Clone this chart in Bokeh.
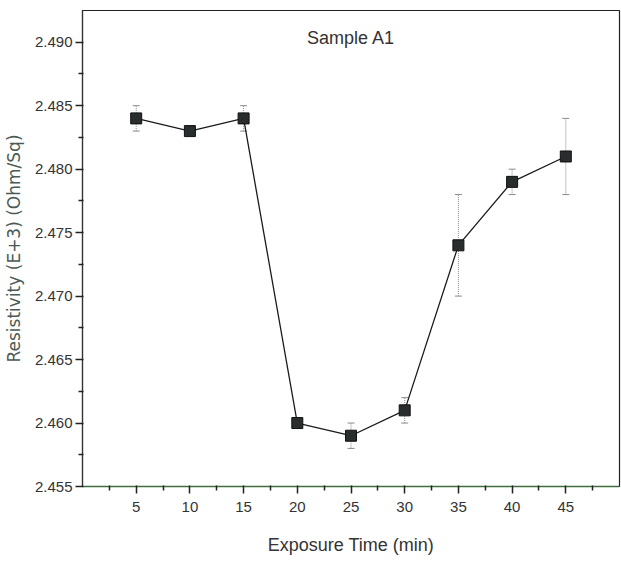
from bokeh.plotting import figure
from bokeh.models import (ColumnDataSource, Whisker, TeeHead, FixedTicker,
                          Label, Range1d, NumeralTickFormatter)
from bokeh.embed import file_html
from bokeh.resources import INLINE

# Sheet resistivity of sample A1 versus exposure time
exposure_min = [5, 10, 15, 20, 25, 30, 35, 40, 45]
resistivity = [2.484, 2.483, 2.484, 2.460, 2.459, 2.461, 2.474, 2.479, 2.481]
resistivity_err = [0.001, 0.0, 0.001, 0.0, 0.001, 0.001, 0.004, 0.001, 0.003]

x_ticks = [5, 10, 15, 20, 25, 30, 35, 40, 45]
x_minor = [2.5, 7.5, 12.5, 17.5, 22.5, 27.5, 32.5, 37.5, 42.5, 47.5]
y_ticks = [2.455, 2.460, 2.465, 2.470, 2.475, 2.480, 2.485, 2.490]
y_minor = [2.4575, 2.4625, 2.4675, 2.4725, 2.4775, 2.4825, 2.4875]

source = ColumnDataSource(data=dict(
    x=exposure_min,
    y=resistivity,
    upper=[v + e for v, e in zip(resistivity, resistivity_err)],
    lower=[v - e for v, e in zip(resistivity, resistivity_err)],
))

FONT = "Liberation Sans"
TEXT = "#333333"

p = figure(width=621, height=561, output_backend="svg", toolbar_location=None,
           x_range=Range1d(0, 50), y_range=Range1d(2.455, 2.4925),
           min_border_left=80, min_border_right=2, min_border_top=10,
           min_border_bottom=75)

p.grid.visible = False
p.outline_line_color = "#222222"
p.outline_line_width = 1.2
p.background_fill_color = "white"
p.border_fill_color = "white"

# error bars drawn beneath the markers
whisk = Whisker(source=source, base="x", upper="upper", lower="lower",
                dimension="height", line_color="#8a8a8a", line_width=1,
                line_dash="1 1", level="underlay",
                upper_head=TeeHead(size=7, line_color="#8a8a8a", line_width=1),
                lower_head=TeeHead(size=7, line_color="#8a8a8a", line_width=1))
p.add_layout(whisk)

p.line("x", "y", source=source, line_color="#1a1a1a", line_width=1.3)
p.scatter("x", "y", source=source, marker="square", size=11,
          fill_color="#2a2d2d", line_color="#111111", line_width=1)

# axes
xa = p.xaxis[0]
xa.ticker = FixedTicker(ticks=x_ticks, minor_ticks=x_minor)
xa.axis_label = "Exposure Time (min)"
xa.axis_label_text_font = FONT
xa.axis_label_text_font_size = "18px"
xa.axis_label_text_font_style = "normal"
xa.axis_label_text_color = TEXT
xa.axis_label_standoff = 20
xa.major_label_text_font = FONT
xa.major_label_text_font_size = "15px"
xa.major_label_text_color = TEXT
xa.major_label_standoff = 8
xa.axis_line_color = "#3f6f3f"
xa.axis_line_width = 1.5
xa.major_tick_line_color = "#222222"
xa.major_tick_line_width = 1.5
xa.minor_tick_line_color = "#222222"
xa.minor_tick_line_width = 1.5
xa.major_tick_out = 7
xa.major_tick_in = 1
xa.minor_tick_out = 4
xa.minor_tick_in = 1

ya = p.yaxis[0]
ya.ticker = FixedTicker(ticks=y_ticks, minor_ticks=y_minor)
ya.formatter = NumeralTickFormatter(format="0.000")
ya.axis_label = "Resistivity (E+3) (Ohm/Sq)"
ya.axis_label_text_font = "DejaVu Sans"
ya.axis_label_text_font_size = "17px"
ya.axis_label_text_font_style = "normal"
ya.axis_label_text_color = "#4a5a55"
ya.axis_label_standoff = 8
ya.major_label_text_font = FONT
ya.major_label_text_font_size = "15px"
ya.major_label_text_color = TEXT
ya.major_label_standoff = 3
ya.axis_line_color = "#333333"
ya.axis_line_width = 1.2
ya.major_tick_line_color = "#222222"
ya.major_tick_line_width = 1.5
ya.minor_tick_line_color = "#222222"
ya.minor_tick_line_width = 1.5
ya.major_tick_out = 7
ya.major_tick_in = 1
ya.minor_tick_out = 4
ya.minor_tick_in = 1

# in-plot title
p.add_layout(Label(x=25, y=449, y_units="screen", text="Sample A1",
                   text_align="center", text_baseline="middle",
                   text_font=FONT, text_font_size="18px", text_color=TEXT))

open("out.html", "w").write(file_html(p, INLINE))
